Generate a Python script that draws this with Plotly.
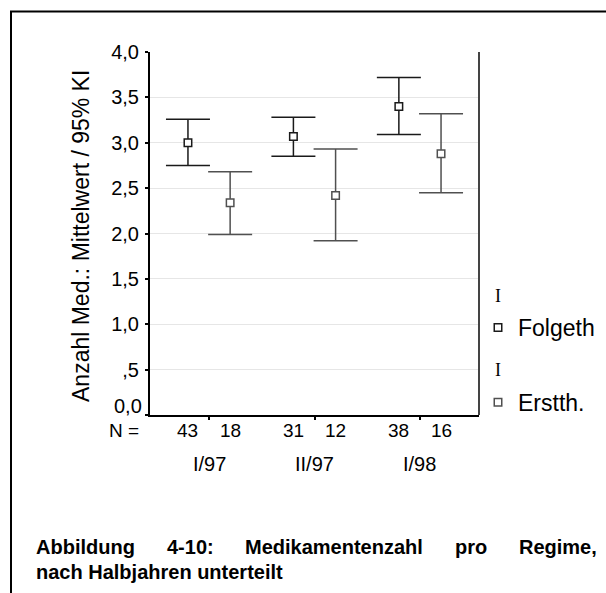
import plotly.graph_objects as go

W, H = 606, 593

# ---- data ----
categories = ["I/97", "II/97", "I/98"]
folgeth_mean = [3.00, 3.07, 3.40]
folgeth_lower = [2.75, 2.85, 3.09]
folgeth_upper = [3.26, 3.28, 3.72]
erstth_mean = [2.34, 2.42, 2.88]
erstth_lower = [1.99, 1.92, 2.45]
erstth_upper = [2.68, 2.93, 3.32]
folgeth_n = [43, 31, 38]
erstth_n = [18, 12, 16]
series_names = ["Folgeth", "Erstth."]
y_tickvals = [0, 0.5, 1.0, 1.5, 2.0, 2.5, 3.0, 3.5, 4.0]
y_ticktext = ["0,0", ",5", "1,0", "1,5", "2,0", "2,5", "3,0", "3,5", "4,0"]
y_title = "Anzahl Med.: Mittelwert / 95% KI"
caption_line1 = ["Abbildung", "4-10:", "Medikamentenzahl", "pro", "Regime,"]
caption_line2 = "nach Halbjahren unterteilt"

FONT = "Liberation Sans, Arial, sans-serif"


def px(x):
    return x / W


def py(y):
    return 1 - y / H


cat_idx = [i + 1 for i in range(len(categories))]
OFF = 0.2
x_f = [c - OFF for c in cat_idx]
x_e = [c + OFF for c in cat_idx]

fig = go.Figure()

for name, xs, mean, lo, up, col in [
    (series_names[0], x_f, folgeth_mean, folgeth_lower, folgeth_upper, "#1a1a1a"),
    (series_names[1], x_e, erstth_mean, erstth_lower, erstth_upper, "#505050"),
]:
    fig.add_trace(go.Scatter(
        x=xs, y=mean, mode="markers", name=name, legendgroup=name,
        marker=dict(symbol="square", size=7.5, color="white",
                    line=dict(color=col, width=1.5)),
        error_y=dict(type="data", symmetric=False,
                     array=[u - m for u, m in zip(up, mean)],
                     arrayminus=[m - l for m, l in zip(mean, lo)],
                     color=col, thickness=1.5, width=22),
    ))

# the lowest tick label sits slightly above its tick (drawn separately)
tick_labels_axis = [("" if v == 0 else t) for v, t in zip(y_tickvals, y_ticktext)]

fig.update_layout(
    template="none",
    width=W, height=H,
    margin=dict(l=0, r=0, t=0, b=0),
    paper_bgcolor="white", plot_bgcolor="white",
    font=dict(family=FONT, color="black"),
    showlegend=True,
    legend=dict(x=px(478), y=py(306), xanchor="left", yanchor="top",
                font=dict(size=23, family=FONT, color="black"), itemwidth=30,
                tracegroupgap=42, bgcolor="rgba(0,0,0,0)", borderwidth=0),
    xaxis=dict(domain=[px(150), px(479)], range=[0.44, 3.56],
               showgrid=False, zeroline=False, showline=True,
               linecolor="black", linewidth=2,
               tickvals=cat_idx, ticktext=["", "", ""],
               ticks="outside", ticklen=3, tickwidth=2, tickcolor="black"),
    yaxis=dict(domain=[py(415), py(52)], range=[0, 4],
               showgrid=True, gridcolor="#e6e6e6", gridwidth=1,
               zeroline=False, showline=True, linecolor="black", linewidth=2,
               tickvals=y_tickvals, ticktext=tick_labels_axis,
               ticks="outside", ticklen=3, tickwidth=2, tickcolor="black",
               tickfont=dict(size=20, family=FONT), ticklabelstandoff=2),
)

shapes = [
    # outer frame (top and left)
    dict(type="line", xref="paper", yref="paper", x0=px(10), x1=1,
         y0=py(11.5), y1=py(11.5), line=dict(color="black", width=2)),
    dict(type="line", xref="paper", yref="paper", x0=px(11), x1=px(11),
         y0=py(11), y1=0, line=dict(color="black", width=2)),
    # right border of plot area
    dict(type="line", xref="x domain", yref="y domain", x0=1, x1=1,
         y0=0, y1=1, line=dict(color="#444444", width=2)),
]
fig.update_layout(shapes=shapes)

ann = []
# lowest y tick label, nudged upward as in the original
ann.append(dict(text=y_ticktext[0], xref="paper", yref="paper", x=px(144),
                y=py(406), xanchor="right", yanchor="middle", showarrow=False,
                font=dict(size=20, family=FONT, color="black")))
# y title
ann.append(dict(text=y_title, xref="paper", yref="paper", x=px(81), y=py(236),
                xanchor="center", yanchor="middle", textangle=-90,
                showarrow=False, font=dict(size=23, family=FONT, color="black")))
# N row
ann.append(dict(text="N =", xref="paper", yref="paper", x=px(141), y=py(430),
                xanchor="right", yanchor="middle", showarrow=False,
                font=dict(size=19, family=FONT, color="black")))
for xs, ns in [(x_f, folgeth_n), (x_e, erstth_n)]:
    for xv, n in zip(xs, ns):
        ann.append(dict(text=str(n), xref="x", yref="paper", x=xv, y=py(430),
                        xanchor="center", yanchor="middle", showarrow=False,
                        font=dict(size=19, family=FONT, color="black")))
# category labels
for c, lab in zip(cat_idx, categories):
    ann.append(dict(text=lab, xref="x", yref="paper", x=c, y=py(464),
                    xanchor="center", yanchor="middle", showarrow=False,
                    font=dict(size=20, family=FONT, color="black")))
# legend error-bar glyphs
for yy in [296, 370]:
    ann.append(dict(text="I", xref="paper", yref="paper", x=px(498), y=py(yy),
                    xanchor="center", yanchor="middle", showarrow=False,
                    font=dict(size=18, family="Liberation Serif, serif",
                              color="black")))
# caption (justified first line)
cap_x = [34, 165, 243, 453, 517]
for word, xx in zip(caption_line1, cap_x):
    ann.append(dict(text="<b>%s</b>" % word, xref="paper", yref="paper",
                    x=px(xx), y=py(547), xanchor="left", yanchor="middle",
                    showarrow=False, font=dict(size=20, family=FONT, color="black")))
ann.append(dict(text="<b>%s</b>" % caption_line2, xref="paper", yref="paper",
                x=px(34), y=py(572), xanchor="left", yanchor="middle",
                showarrow=False, font=dict(size=20, family=FONT, color="black")))
fig.update_layout(annotations=ann)

fig.write_html("out.html", post_script="document.body.style.margin='0';")
